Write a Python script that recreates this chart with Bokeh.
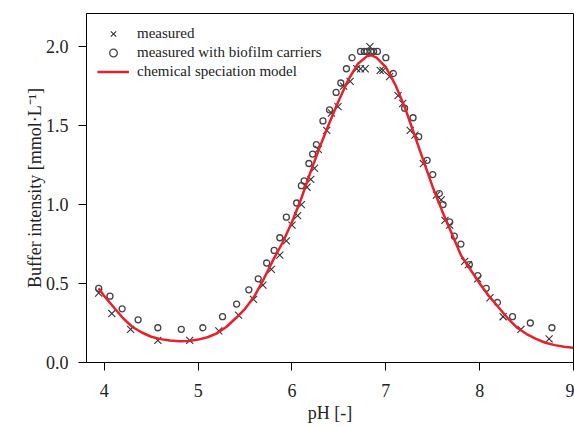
from bokeh.plotting import figure
from bokeh.models import Range1d, FixedTicker, PrintfTickFormatter, Legend, LegendItem
from bokeh.embed import file_html
from bokeh.resources import INLINE

# measured (crosses)
ph_measured = [3.94, 4.08, 4.28, 4.57, 4.91, 5.22, 5.43, 5.59, 5.69, 5.78, 5.87, 5.94, 6.00,
               6.06, 6.10, 6.16, 6.20, 6.24, 6.28, 6.37, 6.42, 6.49, 6.55, 6.62, 6.69, 6.73,
               6.78, 6.83, 6.94, 6.97, 7.04, 7.13, 7.18, 7.26, 7.31, 7.40, 7.54, 7.59, 7.63,
               7.68, 7.84, 7.88, 7.98, 8.11, 8.25, 8.44, 8.74]
bi_measured = [0.44, 0.31, 0.21, 0.14, 0.14, 0.20, 0.30, 0.40, 0.49, 0.59, 0.68, 0.77, 0.87,
               0.93, 1.00, 1.11, 1.16, 1.23, 1.35, 1.47, 1.58, 1.62, 1.75, 1.78, 1.86, 1.86,
               1.86, 2.00, 1.85, 1.85, 1.81, 1.69, 1.64, 1.47, 1.44, 1.26, 1.06, 1.03, 0.90,
               0.87, 0.64, 0.62, 0.53, 0.41, 0.29, 0.21, 0.15]

# measured with biofilm carriers (circles)
ph_carriers = [3.94, 4.06, 4.19, 4.36, 4.57, 4.82, 5.05, 5.26, 5.41, 5.54, 5.64, 5.73, 5.81,
               5.87, 5.94, 6.05, 6.10, 6.13, 6.18, 6.22, 6.26, 6.33, 6.40, 6.47, 6.52, 6.58,
               6.64, 6.73, 6.77, 6.80, 6.84, 6.87, 6.91, 7.00, 7.08, 7.20, 7.29, 7.35, 7.44,
               7.50, 7.57, 7.61, 7.68, 7.73, 7.80, 7.89, 7.98, 8.07, 8.19, 8.35, 8.54, 8.77]
bi_carriers = [0.47, 0.42, 0.34, 0.27, 0.22, 0.21, 0.22, 0.29, 0.37, 0.46, 0.53, 0.63, 0.71,
               0.79, 0.92, 1.01, 1.12, 1.15, 1.26, 1.32, 1.38, 1.53, 1.60, 1.71, 1.77, 1.86,
               1.93, 1.97, 1.97, 1.97, 1.97, 1.97, 1.97, 1.93, 1.83, 1.61, 1.55, 1.43, 1.28,
               1.19, 1.07, 1.00, 0.89, 0.80, 0.75, 0.62, 0.55, 0.47, 0.38, 0.29, 0.25, 0.22]

# chemical speciation model (curve)
ph_model = [3.94, 4.0, 4.1, 4.2, 4.3, 4.4, 4.5, 4.6, 4.7, 4.8, 4.9, 5.0, 5.1, 5.2, 5.3, 5.4,
            5.5, 5.6, 5.7, 5.8, 5.9, 6.0, 6.1, 6.2, 6.3, 6.4, 6.5, 6.6, 6.7, 6.8, 6.85, 6.9,
            7.0, 7.1, 7.2, 7.3, 7.4, 7.5, 7.6, 7.7, 7.8, 7.9, 8.0, 8.1, 8.2, 8.3, 8.4, 8.5,
            8.6, 8.7, 8.8, 8.9, 9.0]
bi_model = [0.47, 0.42, 0.35, 0.28, 0.225, 0.19, 0.163, 0.148, 0.139, 0.135, 0.136, 0.145,
            0.16, 0.185, 0.225, 0.28, 0.34, 0.42, 0.53, 0.65, 0.76, 0.89, 1.04, 1.21, 1.37,
            1.52, 1.66, 1.79, 1.89, 1.94, 1.945, 1.93, 1.87, 1.76, 1.62, 1.45, 1.28, 1.11,
            0.96, 0.82, 0.68, 0.59, 0.50, 0.42, 0.35, 0.28, 0.22, 0.18, 0.15, 0.125, 0.11,
            0.10, 0.093]

x_ticks = [4, 5, 6, 7, 8, 9]
y_ticks = [0.0, 0.5, 1.0, 1.5, 2.0]

FONT = "Liberation Serif"

p = figure(width=574, height=427, output_backend="svg", toolbar_location=None,
           x_range=Range1d(3.81, 9.0), y_range=Range1d(0, 2.21),
           min_border_left=86, min_border_top=13, min_border_right=1, min_border_bottom=65)

p.xgrid.visible = False
p.ygrid.visible = False
p.outline_line_color = "black"
p.outline_line_width = 1
p.background_fill_color = "white"
p.border_fill_color = "white"

for ax in (p.xaxis[0], p.yaxis[0]):
    ax.axis_line_color = "black"
    ax.major_tick_line_color = "black"
    ax.minor_tick_line_color = None
    ax.major_tick_out = 8
    ax.major_tick_in = 0
    ax.major_label_text_font = FONT
    ax.major_label_text_font_size = "18px"
    ax.major_label_text_color = "#222222"
    ax.axis_label_text_font = FONT
    ax.axis_label_text_font_size = "18px"
    ax.axis_label_text_font_style = "normal"
    ax.axis_label_text_color = "#222222"

p.xaxis.ticker = FixedTicker(ticks=x_ticks)
p.yaxis.ticker = FixedTicker(ticks=y_ticks)
p.yaxis.formatter = PrintfTickFormatter(format="%.1f")
p.xaxis.axis_label = "pH [-]"
p.yaxis.axis_label = "Buffer intensity [mmol·L⁻¹]"
p.xaxis.major_label_standoff = 13
p.xaxis.axis_label_standoff = 3
p.yaxis.major_label_standoff = 10
p.yaxis.axis_label_standoff = -2

r_meas = p.scatter(ph_measured, bi_measured, marker="x", size=10, line_color="#333333",
                   line_width=1.1)
r_carr = p.scatter(ph_carriers, bi_carriers, marker="circle", size=6, line_color="#444444",
                   fill_color=None, line_width=1.3)
r_model = p.line(ph_model, bi_model, line_color="#e8202a", line_width=2.5)

legend = Legend(items=[LegendItem(label="measured", renderers=[r_meas]),
                       LegendItem(label="measured with biofilm carriers", renderers=[r_carr]),
                       LegendItem(label="chemical speciation model", renderers=[r_model])],
                location="top_left")
legend.margin = 11
legend.padding = 0
legend.spacing = 0
legend.glyph_width = 32
legend.glyph_height = 19
legend.label_height = 19
legend.label_standoff = 8
legend.label_text_font = FONT
legend.label_text_font_size = "15px"
legend.label_text_color = "#222222"
legend.border_line_color = None
legend.background_fill_alpha = 0
p.add_layout(legend)

open("out.html", "w").write(file_html(p, INLINE))
